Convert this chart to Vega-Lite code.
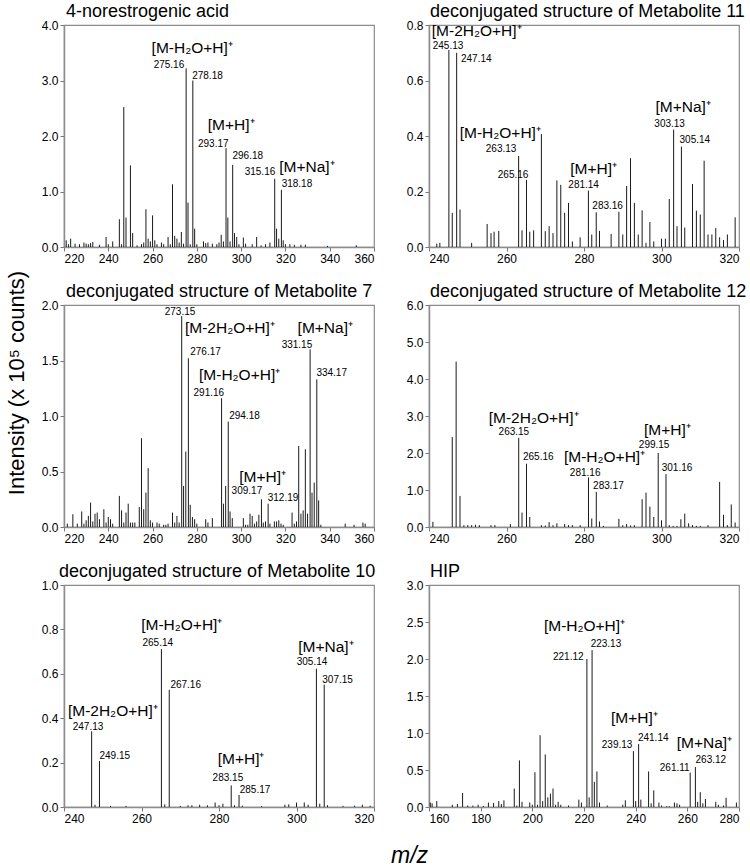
{
  "$schema": "https://vega.github.io/schema/vega-lite/v6.json",
  "background": "white",
  "padding": {"left": 5, "top": 2, "right": 5, "bottom": 0},
  "title": {"text": "Intensity (x 10⁵ counts)", "orient": "left", "anchor": "middle", "fontSize": 22, "fontWeight": "normal", "font": "Liberation Sans", "color": "#000", "offset": 12, "dx": 52, "frame": "bounds"},
  "config": {
    "font": "Liberation Sans",
    "view": {"stroke": "#8c8c8c", "strokeWidth": 1.2},
    "axis": {"grid": false, "labelFont": "Liberation Sans", "labelFontSize": 12, "labelColor": "#000", "labelOverlap": false, "tickCount": 20, "domainColor": "#8c8c8c", "domainWidth": 1.5, "tickColor": "#777", "tickSize": 4, "labelPadding": 2},
    "title": {"font": "Liberation Sans", "fontSize": 18, "fontWeight": "normal", "anchor": "start", "frame": "group", "offset": -2, "color": "#000"},
    "text": {"font": "Liberation Sans", "color": "#000"}
  },
  "datasets": {
    "p1": [
      {"mz":221,"intensity":0.12},{"mz":222,"intensity":0.05},{"mz":223,"intensity":0.15},{"mz":225,"intensity":0.06},{"mz":227,"intensity":0.05},{"mz":229,"intensity":0.08},{"mz":230,"intensity":0.06},{"mz":231,"intensity":0.05},{"mz":232,"intensity":0.07},{"mz":233,"intensity":0.09},{"mz":236,"intensity":0.04},{"mz":239,"intensity":0.18},{"mz":240,"intensity":0.05},{"mz":242,"intensity":0.1},{"mz":245,"intensity":0.5},{"mz":246,"intensity":0.05},{"mz":247,"intensity":2.52},{"mz":248,"intensity":0.53},{"mz":250,"intensity":1.47},{"mz":251,"intensity":0.25},{"mz":253,"intensity":0.03},{"mz":255,"intensity":0.05},{"mz":256,"intensity":0.08},{"mz":257,"intensity":0.68},{"mz":258,"intensity":0.15},{"mz":259,"intensity":0.1},{"mz":260,"intensity":0.57},{"mz":261,"intensity":0.12},{"mz":262,"intensity":0.05},{"mz":264,"intensity":0.08},{"mz":265,"intensity":0.05},{"mz":267,"intensity":0.18},{"mz":268,"intensity":0.05},{"mz":269,"intensity":1.13},{"mz":270,"intensity":0.2},{"mz":271,"intensity":0.15},{"mz":272,"intensity":0.08},{"mz":273,"intensity":0.27},{"mz":274,"intensity":0.06},{"mz":275.16,"intensity":3.22},{"mz":276,"intensity":0.8},{"mz":277,"intensity":0.05},{"mz":278.18,"intensity":3.0},{"mz":279,"intensity":0.33},{"mz":280,"intensity":0.05},{"mz":283,"intensity":0.1},{"mz":284,"intensity":0.07},{"mz":285,"intensity":0.08},{"mz":287,"intensity":0.06},{"mz":289,"intensity":0.05},{"mz":290,"intensity":0.08},{"mz":291,"intensity":0.22},{"mz":292,"intensity":0.1},{"mz":293.17,"intensity":1.78},{"mz":294,"intensity":0.53},{"mz":295,"intensity":0.1},{"mz":296.18,"intensity":1.48},{"mz":297,"intensity":0.25},{"mz":298,"intensity":0.18},{"mz":299,"intensity":0.05},{"mz":301,"intensity":0.17},{"mz":302,"intensity":0.06},{"mz":305,"intensity":0.05},{"mz":307,"intensity":0.18},{"mz":309,"intensity":0.03},{"mz":311,"intensity":0.05},{"mz":313,"intensity":0.08},{"mz":315.16,"intensity":1.23},{"mz":316,"intensity":0.33},{"mz":317,"intensity":0.15},{"mz":318.18,"intensity":1.03},{"mz":319,"intensity":0.12},{"mz":320,"intensity":0.05},{"mz":322,"intensity":0.05},{"mz":324,"intensity":0.04},{"mz":327,"intensity":0.04},{"mz":329,"intensity":0.04},{"mz":339,"intensity":0.02},{"mz":352,"intensity":0.03}
    ],
    "p1lab": [
      {"kind":"ion","label":"[M-H₂O+H]⁺","mz":277.9,"intensity":3.5},
      {"kind":"mass","label":"275.16","mz":267.4,"intensity":3.23},
      {"kind":"mass","label":"278.18","mz":284.8,"intensity":3.02},
      {"kind":"ion","label":"[M+H]⁺","mz":295.5,"intensity":2.1},
      {"kind":"mass","label":"293.17","mz":287.4,"intensity":1.81},
      {"kind":"mass","label":"296.18","mz":303.0,"intensity":1.59},
      {"kind":"mass","label":"315.16","mz":308.5,"intensity":1.29},
      {"kind":"ion","label":"[M+Na]⁺","mz":329.7,"intensity":1.35},
      {"kind":"mass","label":"318.18","mz":325.2,"intensity":1.08}
    ],
    "p2": [
      {"mz":242,"intensity":0.012},{"mz":242.8,"intensity":0.015},{"mz":245.13,"intensity":0.71},{"mz":246,"intensity":0.123},{"mz":247.14,"intensity":0.7},{"mz":248,"intensity":0.135},{"mz":251,"intensity":0.015},{"mz":255,"intensity":0.083},{"mz":256,"intensity":0.05},{"mz":256.8,"intensity":0.055},{"mz":258,"intensity":0.058},{"mz":263.13,"intensity":0.328},{"mz":264,"intensity":0.06},{"mz":265.16,"intensity":0.242},{"mz":266,"intensity":0.055},{"mz":267,"intensity":0.06},{"mz":269,"intensity":0.407},{"mz":270,"intensity":0.057},{"mz":271,"intensity":0.075},{"mz":272,"intensity":0.05},{"mz":273,"intensity":0.24},{"mz":274,"intensity":0.224},{"mz":275,"intensity":0.123},{"mz":276,"intensity":0.159},{"mz":277,"intensity":0.02},{"mz":279,"intensity":0.035},{"mz":281.14,"intensity":0.203},{"mz":282,"intensity":0.045},{"mz":283.16,"intensity":0.125},{"mz":284,"intensity":0.058},{"mz":287,"intensity":0.047},{"mz":289,"intensity":0.127},{"mz":290,"intensity":0.045},{"mz":291,"intensity":0.22},{"mz":292,"intensity":0.32},{"mz":293,"intensity":0.159},{"mz":294,"intensity":0.045},{"mz":295,"intensity":0.132},{"mz":296,"intensity":0.015},{"mz":297,"intensity":0.09},{"mz":298,"intensity":0.02},{"mz":300,"intensity":0.03},{"mz":301,"intensity":0.03},{"mz":302,"intensity":0.173},{"mz":303.13,"intensity":0.423},{"mz":304,"intensity":0.075},{"mz":305.14,"intensity":0.362},{"mz":306,"intensity":0.07},{"mz":308,"intensity":0.227},{"mz":309,"intensity":0.131},{"mz":310,"intensity":0.117},{"mz":311,"intensity":0.311},{"mz":312,"intensity":0.045},{"mz":313,"intensity":0.045},{"mz":314,"intensity":0.068},{"mz":315,"intensity":0.035},{"mz":316,"intensity":0.025},{"mz":317,"intensity":0.045},{"mz":319,"intensity":0.107}
    ],
    "p2lab": [
      {"kind":"ion","label":"[M-2H₂O+H]⁺","mz":252.3,"intensity":0.76},
      {"kind":"mass","label":"245.13","mz":244.9,"intensity":0.713},
      {"kind":"mass","label":"247.14","mz":252.2,"intensity":0.668},
      {"kind":"ion","label":"[M-H₂O+H]⁺","mz":258.4,"intensity":0.391},
      {"kind":"mass","label":"263.13","mz":258.6,"intensity":0.341},
      {"kind":"mass","label":"265.16","mz":261.7,"intensity":0.25},
      {"kind":"ion","label":"[M+H]⁺","mz":282.5,"intensity":0.262},
      {"kind":"mass","label":"281.14","mz":279.9,"intensity":0.212},
      {"kind":"mass","label":"283.16","mz":286.1,"intensity":0.138},
      {"kind":"ion","label":"[M+Na]⁺","mz":305.6,"intensity":0.486},
      {"kind":"mass","label":"303.13","mz":302.1,"intensity":0.433},
      {"kind":"mass","label":"305.14","mz":308.6,"intensity":0.373}
    ],
    "p3": [
      {"mz":221.5,"intensity":0.03},{"mz":224,"intensity":0.115},{"mz":226,"intensity":0.03},{"mz":228,"intensity":0.14},{"mz":229,"intensity":0.03},{"mz":230,"intensity":0.06},{"mz":231,"intensity":0.1},{"mz":232,"intensity":0.22},{"mz":233,"intensity":0.05},{"mz":234,"intensity":0.12},{"mz":235,"intensity":0.13},{"mz":236,"intensity":0.07},{"mz":238,"intensity":0.16},{"mz":239,"intensity":0.04},{"mz":240,"intensity":0.09},{"mz":241,"intensity":0.07},{"mz":242,"intensity":0.03},{"mz":245,"intensity":0.28},{"mz":246,"intensity":0.15},{"mz":247,"intensity":0.04},{"mz":248,"intensity":0.13},{"mz":249,"intensity":0.21},{"mz":250,"intensity":0.04},{"mz":251,"intensity":0.04},{"mz":252,"intensity":0.04},{"mz":254,"intensity":0.18},{"mz":255,"intensity":0.8},{"mz":256,"intensity":0.16},{"mz":257,"intensity":0.31},{"mz":258,"intensity":0.53},{"mz":259,"intensity":0.06},{"mz":260,"intensity":0.04},{"mz":262,"intensity":0.04},{"mz":263,"intensity":0.03},{"mz":265,"intensity":0.02},{"mz":266,"intensity":0.02},{"mz":267,"intensity":0.03},{"mz":269,"intensity":0.13},{"mz":270,"intensity":0.04},{"mz":271,"intensity":0.1},{"mz":272,"intensity":0.04},{"mz":273.15,"intensity":1.9},{"mz":274,"intensity":0.37},{"mz":275,"intensity":0.68},{"mz":276.17,"intensity":1.52},{"mz":277,"intensity":0.2},{"mz":278,"intensity":0.09},{"mz":279,"intensity":0.07},{"mz":280,"intensity":0.03},{"mz":284,"intensity":0.07},{"mz":285,"intensity":0.04},{"mz":287,"intensity":0.08},{"mz":291.16,"intensity":1.16},{"mz":292,"intensity":0.21},{"mz":293,"intensity":0.37},{"mz":294.18,"intensity":0.95},{"mz":295,"intensity":0.14},{"mz":296,"intensity":0.08},{"mz":301,"intensity":0.08},{"mz":302,"intensity":0.02},{"mz":303,"intensity":0.02},{"mz":304,"intensity":0.12},{"mz":305,"intensity":0.1},{"mz":306,"intensity":0.03},{"mz":307,"intensity":0.05},{"mz":308,"intensity":0.11},{"mz":309.17,"intensity":0.25},{"mz":310,"intensity":0.04},{"mz":311,"intensity":0.05},{"mz":312.19,"intensity":0.21},{"mz":313,"intensity":0.03},{"mz":315,"intensity":0.05},{"mz":316,"intensity":0.05},{"mz":317,"intensity":0.06},{"mz":318,"intensity":0.03},{"mz":319,"intensity":0.02},{"mz":323,"intensity":0.13},{"mz":324,"intensity":0.03},{"mz":325,"intensity":0.05},{"mz":326,"intensity":0.73},{"mz":327,"intensity":0.12},{"mz":328,"intensity":0.15},{"mz":329,"intensity":0.7},{"mz":330,"intensity":0.12},{"mz":331.15,"intensity":1.6},{"mz":332,"intensity":0.31},{"mz":333,"intensity":0.4},{"mz":334.17,"intensity":1.33},{"mz":335,"intensity":0.24},{"mz":336,"intensity":0.02},{"mz":347,"intensity":0.03},{"mz":351,"intensity":0.02},{"mz":355,"intensity":0.04},{"mz":356,"intensity":0.03}
    ],
    "p3lab": [
      {"kind":"mass","label":"273.15","mz":272.4,"intensity":1.906},
      {"kind":"ion","label":"[M-2H₂O+H]⁺","mz":294.9,"intensity":1.749},
      {"kind":"ion","label":"[M+Na]⁺","mz":338.0,"intensity":1.749},
      {"kind":"mass","label":"331.15","mz":325.2,"intensity":1.613},
      {"kind":"mass","label":"276.17","mz":283.9,"intensity":1.546},
      {"kind":"ion","label":"[M-H₂O+H]⁺","mz":299.3,"intensity":1.325},
      {"kind":"mass","label":"334.17","mz":340.9,"intensity":1.356},
      {"kind":"mass","label":"291.16","mz":285.4,"intensity":1.18},
      {"kind":"mass","label":"294.18","mz":301.5,"intensity":0.977},
      {"kind":"ion","label":"[M+H]⁺","mz":309.7,"intensity":0.402},
      {"kind":"mass","label":"309.17","mz":302.6,"intensity":0.297},
      {"kind":"mass","label":"312.19","mz":318.9,"intensity":0.23}
    ],
    "p4": [
      {"mz":241,"intensity":0.14},{"mz":246,"intensity":2.43},{"mz":247,"intensity":4.47},{"mz":248,"intensity":0.84},{"mz":249,"intensity":0.05},{"mz":250,"intensity":0.05},{"mz":251,"intensity":0.05},{"mz":252,"intensity":0.06},{"mz":253,"intensity":0.05},{"mz":256,"intensity":0.05},{"mz":257,"intensity":0.05},{"mz":261,"intensity":0.08},{"mz":263.15,"intensity":2.41},{"mz":264,"intensity":0.39},{"mz":265.16,"intensity":1.71},{"mz":266,"intensity":0.27},{"mz":269,"intensity":0.05},{"mz":270,"intensity":0.04},{"mz":271,"intensity":0.13},{"mz":272,"intensity":0.05},{"mz":273,"intensity":0.1},{"mz":275,"intensity":0.08},{"mz":276,"intensity":0.05},{"mz":277,"intensity":0.05},{"mz":279,"intensity":0.05},{"mz":281.16,"intensity":1.34},{"mz":282,"intensity":0.23},{"mz":283.17,"intensity":0.95},{"mz":284,"intensity":0.15},{"mz":285,"intensity":0.03},{"mz":289,"intensity":0.22},{"mz":290,"intensity":0.05},{"mz":291,"intensity":0.08},{"mz":292,"intensity":0.04},{"mz":293,"intensity":0.05},{"mz":295,"intensity":0.75},{"mz":296,"intensity":0.93},{"mz":297,"intensity":0.55},{"mz":298,"intensity":0.27},{"mz":299.15,"intensity":2.0},{"mz":300,"intensity":0.18},{"mz":301.16,"intensity":1.43},{"mz":302,"intensity":0.05},{"mz":303,"intensity":0.03},{"mz":304,"intensity":0.03},{"mz":305,"intensity":0.21},{"mz":306,"intensity":0.36},{"mz":307,"intensity":0.1},{"mz":308,"intensity":0.05},{"mz":309,"intensity":0.03},{"mz":310,"intensity":0.03},{"mz":312,"intensity":0.05},{"mz":315,"intensity":1.22},{"mz":316,"intensity":0.33},{"mz":317,"intensity":0.05},{"mz":318,"intensity":0.61},{"mz":319,"intensity":0.12}
    ],
    "p4lab": [
      {"kind":"ion","label":"[M-2H₂O+H]⁺","mz":267.0,"intensity":2.82},
      {"kind":"mass","label":"263.15","mz":261.9,"intensity":2.48},
      {"kind":"mass","label":"265.16","mz":268.2,"intensity":1.8},
      {"kind":"ion","label":"[M-H₂O+H]⁺","mz":285.3,"intensity":1.75},
      {"kind":"mass","label":"281.16","mz":280.3,"intensity":1.39},
      {"kind":"mass","label":"283.17","mz":286.3,"intensity":1.03},
      {"kind":"ion","label":"[M+H]⁺","mz":301.5,"intensity":2.48},
      {"kind":"mass","label":"299.15","mz":298.1,"intensity":2.13},
      {"kind":"mass","label":"301.16","mz":304.0,"intensity":1.52}
    ],
    "p5": [
      {"mz":247.13,"intensity":0.341},{"mz":248,"intensity":0.01},{"mz":249.15,"intensity":0.207},{"mz":252,"intensity":0.005},{"mz":256,"intensity":0.005},{"mz":265.14,"intensity":0.711},{"mz":266,"intensity":0.012},{"mz":267.16,"intensity":0.528},{"mz":270,"intensity":0.005},{"mz":272,"intensity":0.008},{"mz":273,"intensity":0.008},{"mz":275,"intensity":0.01},{"mz":277,"intensity":0.008},{"mz":279,"intensity":0.02},{"mz":280,"intensity":0.008},{"mz":281,"intensity":0.015},{"mz":283.15,"intensity":0.097},{"mz":284,"intensity":0.008},{"mz":285.17,"intensity":0.054},{"mz":286,"intensity":0.006},{"mz":291,"intensity":0.004},{"mz":297,"intensity":0.01},{"mz":298,"intensity":0.012},{"mz":300,"intensity":0.02},{"mz":302,"intensity":0.02},{"mz":303,"intensity":0.01},{"mz":305.14,"intensity":0.623},{"mz":306,"intensity":0.015},{"mz":307.15,"intensity":0.551},{"mz":308,"intensity":0.008},{"mz":312,"intensity":0.005},{"mz":315,"intensity":0.006},{"mz":317,"intensity":0.01},{"mz":319,"intensity":0.006}
    ],
    "p5lab": [
      {"kind":"ion","label":"[M-H₂O+H]⁺","mz":270.4,"intensity":0.798},
      {"kind":"mass","label":"265.14","mz":264.2,"intensity":0.723},
      {"kind":"mass","label":"267.16","mz":271.4,"intensity":0.536},
      {"kind":"ion","label":"[M+Na]⁺","mz":307.6,"intensity":0.7},
      {"kind":"mass","label":"305.14","mz":304.0,"intensity":0.641},
      {"kind":"mass","label":"307.15","mz":310.6,"intensity":0.558},
      {"kind":"ion","label":"[M-2H₂O+H]⁺","mz":252.6,"intensity":0.409},
      {"kind":"mass","label":"247.13","mz":246.2,"intensity":0.349},
      {"kind":"mass","label":"249.15","mz":253.1,"intensity":0.217},
      {"kind":"ion","label":"[M+H]⁺","mz":285.7,"intensity":0.192},
      {"kind":"mass","label":"283.15","mz":282.3,"intensity":0.117},
      {"kind":"mass","label":"285.17","mz":289.3,"intensity":0.064}
    ],
    "p6": [
      {"mz":160.5,"intensity":0.06},{"mz":161.2,"intensity":0.05},{"mz":163,"intensity":0.08},{"mz":169,"intensity":0.03},{"mz":171,"intensity":0.04},{"mz":173,"intensity":0.19},{"mz":175,"intensity":0.02},{"mz":177,"intensity":0.02},{"mz":179,"intensity":0.03},{"mz":181,"intensity":0.015},{"mz":183,"intensity":0.06},{"mz":185,"intensity":0.055},{"mz":187,"intensity":0.08},{"mz":188,"intensity":0.04},{"mz":189,"intensity":0.09},{"mz":193,"intensity":0.25},{"mz":194,"intensity":0.02},{"mz":195,"intensity":0.63},{"mz":196,"intensity":0.07},{"mz":199,"intensity":0.06},{"mz":200,"intensity":0.03},{"mz":201,"intensity":0.47},{"mz":202,"intensity":0.03},{"mz":203,"intensity":0.97},{"mz":204,"intensity":0.08},{"mz":205,"intensity":0.71},{"mz":206,"intensity":0.13},{"mz":207,"intensity":0.18},{"mz":208,"intensity":0.25},{"mz":209,"intensity":0.03},{"mz":210,"intensity":0.07},{"mz":211,"intensity":0.03},{"mz":214,"intensity":0.02},{"mz":218,"intensity":0.1},{"mz":219,"intensity":0.06},{"mz":221.12,"intensity":2.0},{"mz":222,"intensity":0.13},{"mz":223.13,"intensity":2.12},{"mz":224,"intensity":0.34},{"mz":225,"intensity":0.48},{"mz":226,"intensity":0.06},{"mz":229,"intensity":0.02},{"mz":235,"intensity":0.03},{"mz":236,"intensity":0.09},{"mz":239.13,"intensity":0.755},{"mz":240,"intensity":0.08},{"mz":241.14,"intensity":0.85},{"mz":242,"intensity":0.1},{"mz":245,"intensity":0.48},{"mz":246,"intensity":0.05},{"mz":247,"intensity":0.225},{"mz":249,"intensity":0.06},{"mz":250,"intensity":0.02},{"mz":252,"intensity":0.01},{"mz":253,"intensity":0.01},{"mz":255,"intensity":0.06},{"mz":256,"intensity":0.05},{"mz":257,"intensity":0.03},{"mz":261.11,"intensity":0.465},{"mz":263.12,"intensity":0.54},{"mz":264,"intensity":0.07},{"mz":265,"intensity":0.2},{"mz":266,"intensity":0.05},{"mz":267,"intensity":0.11},{"mz":271,"intensity":0.07},{"mz":272,"intensity":0.03},{"mz":274,"intensity":0.02},{"mz":275,"intensity":0.125},{"mz":279,"intensity":0.06}
    ],
    "p6lab": [
      {"kind":"ion","label":"[M-H₂O+H]⁺","mz":220.2,"intensity":2.376},
      {"kind":"mass","label":"221.12","mz":213.9,"intensity":1.99},
      {"kind":"mass","label":"223.13","mz":228.5,"intensity":2.16},
      {"kind":"ion","label":"[M+H]⁺","mz":239.5,"intensity":1.131},
      {"kind":"mass","label":"239.13","mz":232.8,"intensity":0.792},
      {"kind":"mass","label":"241.14","mz":246.8,"intensity":0.891},
      {"kind":"ion","label":"[M+Na]⁺","mz":266.6,"intensity":0.792},
      {"kind":"mass","label":"261.11","mz":255.1,"intensity":0.484},
      {"kind":"mass","label":"263.12","mz":269.1,"intensity":0.597}
    ]
  },
  "columns": 2,
  "bounds": "flush",
  "spacing": {"row": 58, "column": 55},
  "concat": [
    {
      "width": 310, "height": 222,
      "title": {"text": "4-norestrogenic acid", "dx": 2},
      "layer": [
        {"data": {"name": "p1"}, "mark": {"type": "rule", "color": "#1a1a1a", "strokeWidth": 1},
         "encoding": {
           "x": {"field": "mz", "type": "quantitative", "title": null, "scale": {"domain": [220, 360], "nice": false, "zero": false}, "axis": {"values": [220, 240, 260, 280, 300, 320, 340, 360]}},
           "y": {"field": "intensity", "type": "quantitative", "title": null, "scale": {"domain": [0, 4], "nice": false}, "axis": {"values": [0, 1, 2, 3, 4], "format": ".1f"}},
           "y2": {"datum": 0}}},
        {"data": {"name": "p1lab"}, "transform": [{"filter": "datum.kind === 'mass'"}], "mark": {"type": "text", "fontSize": 10, "align": "center", "baseline": "alphabetic"},
         "encoding": {"x": {"field": "mz", "type": "quantitative"}, "y": {"field": "intensity", "type": "quantitative"}, "text": {"field": "label"}}},
        {"data": {"name": "p1lab"}, "transform": [{"filter": "datum.kind === 'ion'"}], "mark": {"type": "text", "fontSize": 15.5, "align": "center", "baseline": "alphabetic"},
         "encoding": {"x": {"field": "mz", "type": "quantitative"}, "y": {"field": "intensity", "type": "quantitative"}, "text": {"field": "label"}}}
      ]
    },
    {
      "width": 310, "height": 222,
      "title": {"text": "deconjugated structure of Metabolite 11", "dx": 1},
      "layer": [
        {"data": {"name": "p2"}, "mark": {"type": "rule", "color": "#1a1a1a", "strokeWidth": 1},
         "encoding": {
           "x": {"field": "mz", "type": "quantitative", "title": null, "scale": {"domain": [240, 320], "nice": false, "zero": false}, "axis": {"values": [240, 260, 280, 300, 320]}},
           "y": {"field": "intensity", "type": "quantitative", "title": null, "scale": {"domain": [0, 0.8], "nice": false}, "axis": {"values": [0, 0.2, 0.4, 0.6, 0.8], "format": ".1f"}},
           "y2": {"datum": 0}}},
        {"data": {"name": "p2lab"}, "transform": [{"filter": "datum.kind === 'mass'"}], "mark": {"type": "text", "fontSize": 10, "align": "center", "baseline": "alphabetic"},
         "encoding": {"x": {"field": "mz", "type": "quantitative"}, "y": {"field": "intensity", "type": "quantitative"}, "text": {"field": "label"}}},
        {"data": {"name": "p2lab"}, "transform": [{"filter": "datum.kind === 'ion'"}], "mark": {"type": "text", "fontSize": 15.5, "align": "center", "baseline": "alphabetic"},
         "encoding": {"x": {"field": "mz", "type": "quantitative"}, "y": {"field": "intensity", "type": "quantitative"}, "text": {"field": "label"}}}
      ]
    },
    {
      "width": 310, "height": 222,
      "title": {"text": "deconjugated structure of Metabolite 7", "dx": 2},
      "layer": [
        {"data": {"name": "p3"}, "mark": {"type": "rule", "color": "#1a1a1a", "strokeWidth": 1},
         "encoding": {
           "x": {"field": "mz", "type": "quantitative", "title": null, "scale": {"domain": [220, 360], "nice": false, "zero": false}, "axis": {"values": [220, 240, 260, 280, 300, 320, 340, 360]}},
           "y": {"field": "intensity", "type": "quantitative", "title": null, "scale": {"domain": [0, 2], "nice": false}, "axis": {"values": [0, 0.5, 1, 1.5, 2], "format": ".1f"}},
           "y2": {"datum": 0}}},
        {"data": {"name": "p3lab"}, "transform": [{"filter": "datum.kind === 'mass'"}], "mark": {"type": "text", "fontSize": 10, "align": "center", "baseline": "alphabetic"},
         "encoding": {"x": {"field": "mz", "type": "quantitative"}, "y": {"field": "intensity", "type": "quantitative"}, "text": {"field": "label"}}},
        {"data": {"name": "p3lab"}, "transform": [{"filter": "datum.kind === 'ion'"}], "mark": {"type": "text", "fontSize": 15.5, "align": "center", "baseline": "alphabetic"},
         "encoding": {"x": {"field": "mz", "type": "quantitative"}, "y": {"field": "intensity", "type": "quantitative"}, "text": {"field": "label"}}}
      ]
    },
    {
      "width": 310, "height": 222,
      "title": {"text": "deconjugated structure of Metabolite 12", "dx": 1},
      "layer": [
        {"data": {"name": "p4"}, "mark": {"type": "rule", "color": "#1a1a1a", "strokeWidth": 1},
         "encoding": {
           "x": {"field": "mz", "type": "quantitative", "title": null, "scale": {"domain": [240, 320], "nice": false, "zero": false}, "axis": {"values": [240, 260, 280, 300, 320]}},
           "y": {"field": "intensity", "type": "quantitative", "title": null, "scale": {"domain": [0, 6], "nice": false}, "axis": {"values": [0, 1, 2, 3, 4, 5, 6], "format": ".1f"}},
           "y2": {"datum": 0}}},
        {"data": {"name": "p4lab"}, "transform": [{"filter": "datum.kind === 'mass'"}], "mark": {"type": "text", "fontSize": 10, "align": "center", "baseline": "alphabetic"},
         "encoding": {"x": {"field": "mz", "type": "quantitative"}, "y": {"field": "intensity", "type": "quantitative"}, "text": {"field": "label"}}},
        {"data": {"name": "p4lab"}, "transform": [{"filter": "datum.kind === 'ion'"}], "mark": {"type": "text", "fontSize": 15.5, "align": "center", "baseline": "alphabetic"},
         "encoding": {"x": {"field": "mz", "type": "quantitative"}, "y": {"field": "intensity", "type": "quantitative"}, "text": {"field": "label"}}}
      ]
    },
    {
      "width": 310, "height": 222,
      "title": {"text": "deconjugated structure of Metabolite 10", "dx": -5},
      "layer": [
        {"data": {"name": "p5"}, "mark": {"type": "rule", "color": "#1a1a1a", "strokeWidth": 1},
         "encoding": {
           "x": {"field": "mz", "type": "quantitative", "title": "m/z", "scale": {"domain": [240, 320], "nice": false, "zero": false}, "axis": {"values": [240, 260, 280, 300, 320], "titleFontSize": 23, "titleFontStyle": "italic", "titleFontWeight": "normal", "titleFont": "Liberation Sans", "titleColor": "#000", "titleX": 345, "titleY": 37}},
           "y": {"field": "intensity", "type": "quantitative", "title": null, "scale": {"domain": [0, 1], "nice": false}, "axis": {"values": [0, 0.2, 0.4, 0.6, 0.8, 1], "format": ".1f"}},
           "y2": {"datum": 0}}},
        {"data": {"name": "p5lab"}, "transform": [{"filter": "datum.kind === 'mass'"}], "mark": {"type": "text", "fontSize": 10, "align": "center", "baseline": "alphabetic"},
         "encoding": {"x": {"field": "mz", "type": "quantitative"}, "y": {"field": "intensity", "type": "quantitative"}, "text": {"field": "label"}}},
        {"data": {"name": "p5lab"}, "transform": [{"filter": "datum.kind === 'ion'"}], "mark": {"type": "text", "fontSize": 15.5, "align": "center", "baseline": "alphabetic"},
         "encoding": {"x": {"field": "mz", "type": "quantitative"}, "y": {"field": "intensity", "type": "quantitative"}, "text": {"field": "label"}}}
      ]
    },
    {
      "width": 310, "height": 222,
      "title": {"text": "HIP", "dx": 1},
      "layer": [
        {"data": {"name": "p6"}, "mark": {"type": "rule", "color": "#1a1a1a", "strokeWidth": 1},
         "encoding": {
           "x": {"field": "mz", "type": "quantitative", "title": null, "scale": {"domain": [160, 280], "nice": false, "zero": false}, "axis": {"values": [160, 180, 200, 220, 240, 260, 280]}},
           "y": {"field": "intensity", "type": "quantitative", "title": null, "scale": {"domain": [0, 3], "nice": false}, "axis": {"values": [0, 0.5, 1, 1.5, 2, 2.5, 3], "format": ".1f"}},
           "y2": {"datum": 0}}},
        {"data": {"name": "p6lab"}, "transform": [{"filter": "datum.kind === 'mass'"}], "mark": {"type": "text", "fontSize": 10, "align": "center", "baseline": "alphabetic"},
         "encoding": {"x": {"field": "mz", "type": "quantitative"}, "y": {"field": "intensity", "type": "quantitative"}, "text": {"field": "label"}}},
        {"data": {"name": "p6lab"}, "transform": [{"filter": "datum.kind === 'ion'"}], "mark": {"type": "text", "fontSize": 15.5, "align": "center", "baseline": "alphabetic"},
         "encoding": {"x": {"field": "mz", "type": "quantitative"}, "y": {"field": "intensity", "type": "quantitative"}, "text": {"field": "label"}}}
      ]
    }
  ]
}
